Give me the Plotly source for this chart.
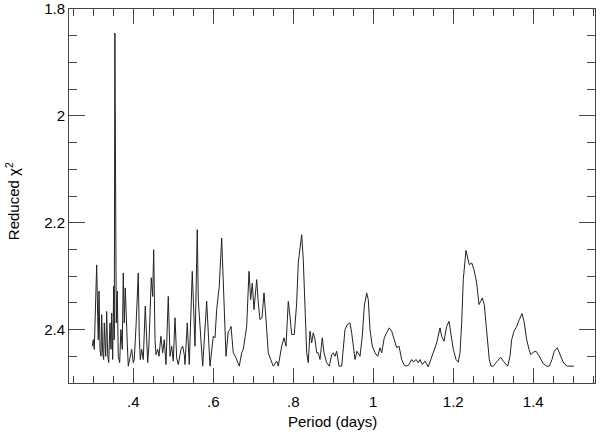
import plotly.graph_objects as go

period = [0.2975, 0.300, 0.3025, 0.306, 0.3085, 0.311, 0.3125, 0.3143, 0.3168, 0.3193,
          0.321, 0.3235, 0.326, 0.3275, 0.331, 0.3335, 0.336, 0.3385, 0.3418, 0.3443,
          0.346, 0.3485, 0.351, 0.3525, 0.354, 0.3575, 0.360, 0.3625, 0.366, 0.369,
          0.3725, 0.375, 0.3775, 0.380, 0.3825, 0.385, 0.3875, 0.392, 0.396, 0.400,
          0.4025, 0.4068, 0.410, 0.4125, 0.415, 0.4175, 0.421, 0.425, 0.430, 0.4335,
          0.436, 0.439, 0.4425, 0.445, 0.4485, 0.451, 0.4543, 0.4568, 0.461, 0.4643,
          0.469, 0.4735, 0.4775, 0.4818, 0.4875, 0.4918, 0.496, 0.500, 0.5043, 0.5085,
          0.5125, 0.5193, 0.5235, 0.5275, 0.5293, 0.535, 0.540, 0.5475, 0.5543, 0.560,
          0.5625, 0.5668, 0.5735, 0.5835, 0.5918, 0.600, 0.6043, 0.6085, 0.615, 0.621,
          0.625, 0.6318, 0.6375, 0.6418, 0.6443, 0.650, 0.6568, 0.665, 0.671, 0.675,
          0.6835, 0.6893, 0.6935, 0.6975, 0.7018, 0.7085, 0.7125, 0.7168, 0.7218, 0.7268,
          0.7318, 0.7375, 0.7435, 0.750, 0.7585, 0.7625, 0.771, 0.7768, 0.7818, 0.7875,
          0.7918, 0.796, 0.8025, 0.8085, 0.8125, 0.821, 0.825, 0.8293, 0.8335, 0.8375,
          0.8418, 0.846, 0.850, 0.8543, 0.8585, 0.8625, 0.8668, 0.8725, 0.8768, 0.8835,
          0.890, 0.896, 0.900, 0.9043, 0.9085, 0.9143, 0.921, 0.9293, 0.935, 0.9418,
          0.946, 0.9543, 0.9593, 0.9668, 0.9725, 0.9775, 0.9835, 0.9875, 0.9918, 0.9975,
          1.0043, 1.011, 1.0168, 1.021, 1.0275, 1.0335, 1.040, 1.046, 1.050, 1.0543,
          1.0585, 1.0643, 1.071, 1.0775, 1.0835, 1.0893, 1.096, 1.101, 1.1068, 1.1125,
          1.1168, 1.1225, 1.1293, 1.1375, 1.146, 1.1543, 1.1585, 1.1668, 1.171, 1.1768,
          1.1835, 1.1893, 1.1943, 1.200, 1.2068, 1.2125, 1.2168, 1.221, 1.225, 1.2318,
          1.236, 1.240, 1.246, 1.2518, 1.2585, 1.2643, 1.2685, 1.2725, 1.2775, 1.2818,
          1.286, 1.290, 1.2943, 1.300, 1.3068, 1.3125, 1.3185, 1.325, 1.3318, 1.336,
          1.3418, 1.346, 1.3518, 1.3585, 1.365, 1.3718, 1.3768, 1.3835, 1.3893, 1.3935,
          1.400, 1.4068, 1.4125, 1.4185, 1.425, 1.4335, 1.440, 1.4468, 1.4525, 1.460,
          1.4668, 1.4735, 1.4793, 1.485, 1.5018]

chi2 = [2.431, 2.419, 2.437, 2.356, 2.279, 2.375, 2.419, 2.328, 2.437, 2.450,
        2.372, 2.4435, 2.456, 2.3875, 2.450, 2.366, 2.447, 2.462, 2.3875, 2.437,
        2.369, 2.456, 2.319, 2.419, 1.845, 2.3875, 2.328, 2.450, 2.462, 2.400,
        2.437, 2.294, 2.3875, 2.322, 2.3875, 2.425, 2.4685, 2.450, 2.437, 2.462,
        2.456, 2.394, 2.347, 2.294, 2.4125, 2.456, 2.437, 2.456, 2.356, 2.437,
        2.462, 2.431, 2.369, 2.303, 2.338, 2.2505, 2.419, 2.447, 2.437, 2.450,
        2.4125, 2.4435, 2.419, 2.4655, 2.338, 2.450, 2.431, 2.459, 2.378, 2.453,
        2.4655, 2.437, 2.431, 2.447, 2.4654, 2.3875, 2.4654, 2.291, 2.431, 2.213,
        2.344, 2.394, 2.4685, 2.347, 2.4685, 2.4125, 2.4155, 2.3626, 2.319, 2.2286,
        2.319, 2.450, 2.403, 2.400, 2.394, 2.4435, 2.453, 2.4685, 2.4435, 2.437,
        2.394, 2.291, 2.344, 2.313, 2.3626, 2.3065, 2.350, 2.3813, 2.378, 2.3314,
        2.3813, 2.4435, 2.456, 2.4685, 2.459, 2.4685, 2.431, 2.4155, 2.431, 2.347,
        2.375, 2.4093, 2.4093, 2.350, 2.2753, 2.2224, 2.269, 2.3813, 2.4435, 2.462,
        2.403, 2.425, 2.406, 2.419, 2.4435, 2.4435, 2.456, 2.4155, 2.4435, 2.462,
        2.4685, 2.447, 2.4435, 2.450, 2.4406, 2.4685, 2.4685, 2.400, 2.3907, 2.3875,
        2.406, 2.456, 2.4406, 2.450, 2.4125, 2.3564, 2.3314, 2.344, 2.400, 2.431,
        2.4435, 2.450, 2.434, 2.4435, 2.4155, 2.406, 2.3968, 2.403, 2.4125, 2.425,
        2.434, 2.431, 2.456, 2.4667, 2.4685, 2.4654, 2.456, 2.461, 2.456, 2.462,
        2.456, 2.4654, 2.459, 2.4697, 2.450, 2.434, 2.425, 2.3968, 2.4125, 2.4219,
        2.394, 2.3845, 2.406, 2.437, 2.456, 2.461, 2.4435, 2.3875, 2.3065, 2.2518,
        2.266, 2.2785, 2.2753, 2.2879, 2.3127, 2.3533, 2.347, 2.3407, 2.3533, 2.3875,
        2.425, 2.456, 2.4685, 2.4685, 2.462, 2.456, 2.4518, 2.459, 2.4654, 2.4685,
        2.450, 2.4187, 2.403, 2.394, 2.3813, 2.370, 2.3845, 2.4187, 2.437, 2.4467,
        2.4424, 2.4406, 2.4467, 2.456, 2.4636, 2.4685, 2.4685, 2.456, 2.4406, 2.434,
        2.4467, 2.459, 2.4654, 2.4685, 2.4685]

x_tickvals = [0.4, 0.6, 0.8, 1.0, 1.2, 1.4]
x_ticktext = [".4", ".6", ".8", "1", "1.2", "1.4"]
y_tickvals = [1.8, 2.0, 2.2, 2.4]
y_ticktext = ["1.8", "2", "2.2", "2.4"]
x_title = "Period (days)"
y_title = "Reduced χ<sup>2</sup>"

FONT = "Liberation Sans, Arial, Helvetica, sans-serif"
AX = "#444444"

fig = go.Figure()
fig.add_trace(go.Scatter(x=period, y=chi2, mode="lines",
                         line=dict(color="#222222", width=1), showlegend=False,
                         hoverinfo="skip"))

fig.update_layout(
    width=600, height=432,
    margin=dict(l=69, r=5, t=9, b=49, autoexpand=False),
    paper_bgcolor="white", plot_bgcolor="white",
    font=dict(family=FONT, size=15, color="black"),
    xaxis=dict(
        range=[0.2393, 1.5543], showline=True, linecolor=AX, linewidth=1,
        mirror="ticks", ticks="inside", ticklen=15, tickcolor=AX, tickwidth=1,
        tickmode="array", tickvals=x_tickvals, ticktext=x_ticktext,
        tickfont=dict(size=15, family=FONT, color="black"), ticklabelstandoff=5,
        minor=dict(ticks="inside", ticklen=7, tickcolor=AX, tickwidth=1,
                   tickmode="linear", tick0=0, dtick=0.05, showgrid=False),
        showgrid=False, zeroline=False, automargin=False,
    ),
    yaxis=dict(
        range=[2.5, 1.8], showline=True, linecolor=AX, linewidth=1,
        mirror="ticks", ticks="inside", ticklen=16, tickcolor=AX, tickwidth=1,
        tickmode="array", tickvals=y_tickvals, ticktext=y_ticktext,
        tickfont=dict(size=15, family=FONT, color="black"),
        minor=dict(ticks="inside", ticklen=8, tickcolor=AX, tickwidth=1,
                   tickmode="linear", tick0=0, dtick=0.05, showgrid=False),
        showgrid=False, zeroline=False, automargin=False,
    ),
    annotations=[
        dict(text=x_title, xref="paper", yref="paper", x=0.5, y=-0.1035,
             xanchor="center", yanchor="middle", showarrow=False,
             font=dict(size=15, family=FONT, color="black")),
        dict(text=y_title, xref="paper", yref="paper", x=-0.1074, y=0.4848,
             xanchor="center", yanchor="middle", showarrow=False, textangle=-90,
             font=dict(size=15, family=FONT, color="black")),
    ],
)

fig.write_html("out.html", config={"displayModeBar": False},
               post_script="document.body.style.margin='0px';document.body.style.padding='0px';")
